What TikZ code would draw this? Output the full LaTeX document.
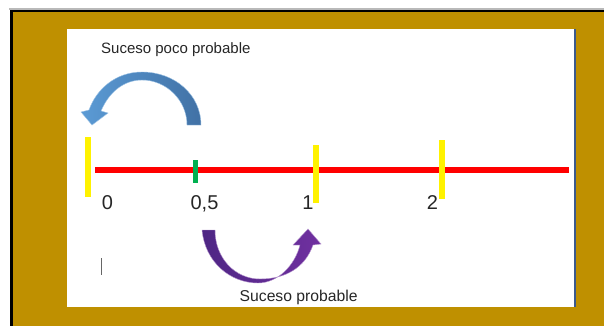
\documentclass[tikz,border=0pt]{standalone}
\usepackage{fontspec}
\setmainfont{Liberation Sans}
\definecolor{gold}{RGB}{191,144,0}
\definecolor{txt}{RGB}{38,38,38}
\definecolor{blueL}{RGB}{91,155,213}
\definecolor{blueD}{RGB}{65,113,165}
\definecolor{purL}{RGB}{78,38,132}
\definecolor{purD}{RGB}{112,48,160}
\definecolor{grn}{RGB}{0,176,80}
\definecolor{edge}{RGB}{60,90,140}
\tikzset{
  numlbl/.style={anchor=base, inner sep=0pt, text=txt, font=\fontsize{20}{24}\selectfont},
  caption/.style={anchor=base west, inner sep=0pt, text=txt},
  ytick/.style={draw=yellow, line width=6pt},
}
\begin{document}
\begin{tikzpicture}[x=1pt,y=-1pt]
\useasboundingbox (0,0) rectangle (604,326);
\fill[white] (0,0) rectangle (604,326);
% frame
\fill[gray!55] (9,8.5) rectangle (604,10);
\fill[black] (10,10) rectangle (604,12);
\fill[black] (10,10) rectangle (13,326);
\fill[gold] (13,12) rectangle (604,326);
\fill[white] (67,29) rectangle (575,307);
\fill[edge] (574,29) rectangle (576,307);
% number line
\draw[red, line width=5.5pt] (95,170) -- (569,170);
\draw[ytick] (88,137) -- (88,197);
\draw[ytick] (315.7,145) -- (315.7,203);
\draw[ytick] (441.7,140) -- (441.7,199);
\draw[grn, line width=5.3pt] (195.3,160) -- (195.3,183);
% labels
\node[numlbl] (l0) at (107.5,209) {0};
\node[numlbl] (l05) at (204.5,209) {0,5};
\node[numlbl] (l1) at (308,209) {1};
\node[numlbl] (l2) at (432.5,209) {2};
\node[caption, font=\fontsize{15}{18}\selectfont] (poco) at (101,53.3) {Suceso poco probable};
\node[caption, font=\fontsize{15.7}{18}\selectfont] (prob) at (239.5,301.7) {Suceso probable};
% cursor
\draw[gray!80!black, line width=1pt] (101,258) -- (101,275);
% blue curved arrow
\shade[left color=blueL, right color=blueD, draw=blueL!60, line width=0.4pt]
  (201,125) .. controls (201,95) and (175,72) .. (142,72)
  .. controls (115,72) and (96,90) .. (89,110)
  -- (81,112) -- (92,125) -- (108,113) -- (101,111)
  .. controls (109,92) and (124,80) .. (142,80)
  .. controls (166,80) and (187,100) .. (187,125) -- cycle;
% purple curved arrow
\shade[left color=purL, right color=purD, draw=purD!50, line width=0.4pt]
  (202,230) .. controls (205,262) and (230,283) .. (258,283)
  .. controls (278,283) and (295,265) .. (300,245)
  -- (293,245) -- (308,229) -- (321,244) -- (313,245)
  .. controls (305,268) and (285,279) .. (260,279)
  .. controls (235,279) and (215,258) .. (215,230) -- cycle;
\end{tikzpicture}
\end{document}
